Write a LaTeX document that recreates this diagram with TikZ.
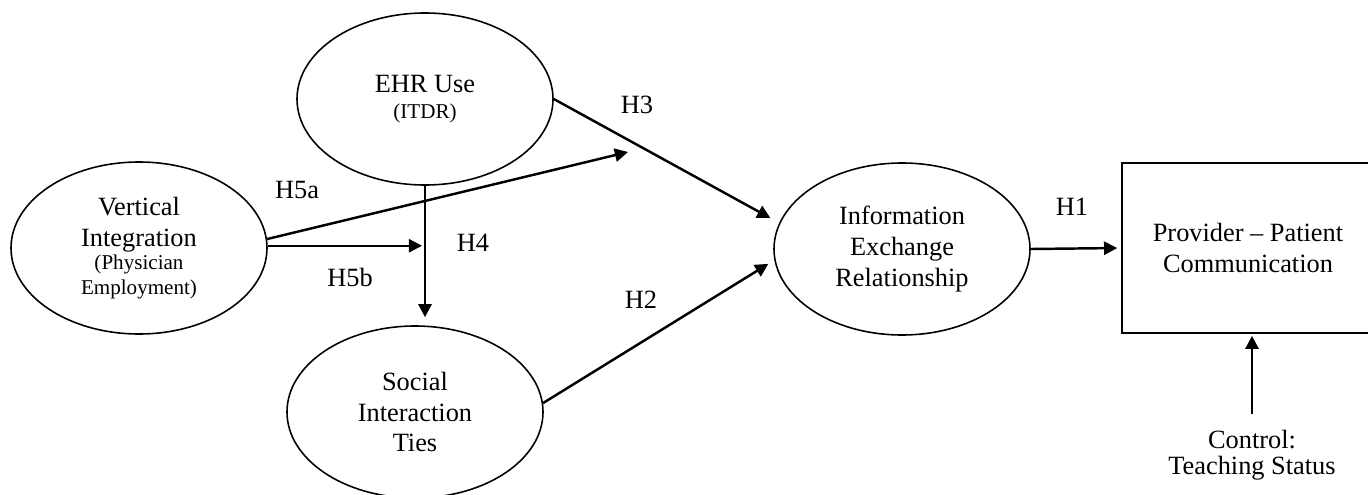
\documentclass[tikz,border=0pt]{standalone}
\usepackage{fontspec}
\setmainfont{Liberation Serif}
\usepackage{tikz}
\usetikzlibrary{arrows.meta}
\usetikzlibrary{shapes.geometric}

\tikzset{
	construct/.style={draw, ellipse, line width=0.9pt, inner sep=0pt,
		minimum width=5.12cm, minimum height=3.44cm, align=center,
		font=\fontsize{15}{17.5}\selectfont},
	hyp/.style={line width=1.4pt, -{Triangle[length=7.5pt, width=7.5pt]}},
	hlabel/.style={font=\fontsize{15}{17.5}\selectfont},
}
\newcommand{\smalltxt}{\fontsize{12}{14}\selectfont}

\begin{document}
\begin{tikzpicture}
	\clip (0,0) rectangle (27.36,-9.9);

	\node[construct] (vi) at (2.78,-4.96) {Vertical\\Integration\\[-4pt]{\smalltxt (Physician}\\[-3.5pt]{\smalltxt Employment)}};
	\node[construct] (ehr) at (8.50,-1.98) {EHR Use\\[-2.5pt]{\smalltxt (ITDR)}};
	\node[construct] (sit) at (8.30,-8.24) {Social\\Interaction\\Ties};
	\node[construct] (ier) at (18.04,-4.98) {Information\\Exchange\\Relationship};

	\node[draw, rectangle, line width=0.9pt, minimum width=5.04cm, minimum height=3.40cm,
		align=center, hlabel] (ppc) at (24.96,-4.96) {Provider -- Patient\\Communication};
	\node[hlabel, align=center] (ctrl) at (25.04,-9.10) {Control:\\[-3pt]Teaching Status};

	\coordinate (h5atip) at (12.56,-3.04);

	% hypotheses
	\draw[hyp] (vi.4) -- (h5atip);
	\draw[hyp, shorten >=0.06cm] (vi.1) -- (vi.1 -| ehr.south);
	\draw[hyp, shorten >=0.16cm] (ehr.south) -- (ehr.south |- sit.north);
	\draw[hyp, shorten >=0.2cm] (ehr.east) -- (ier.168);
	\draw[hyp, shorten >=0.14cm] (sit.4) -- (ier.185);
	\draw[hyp, shorten >=0.08cm] (ier.east) -- (ppc.west);
	\draw[hyp, shorten >=0.04cm] ([yshift=0.2cm]ctrl.north) -- (ctrl.north |- ppc.south);

	\node[hlabel] (h5a) at (5.94,-3.80) {H5a};
	\node[hlabel] (h5b) at (7.00,-5.54) {H5b};
	\node[hlabel] (h4) at (9.46,-4.86) {H4};
	\node[hlabel] (h3) at (12.74,-2.10) {H3};
	\node[hlabel] (h2) at (12.82,-6.00) {H2};
	\node[hlabel] (h1) at (21.44,-4.14) {H1};
\end{tikzpicture}
\end{document}
